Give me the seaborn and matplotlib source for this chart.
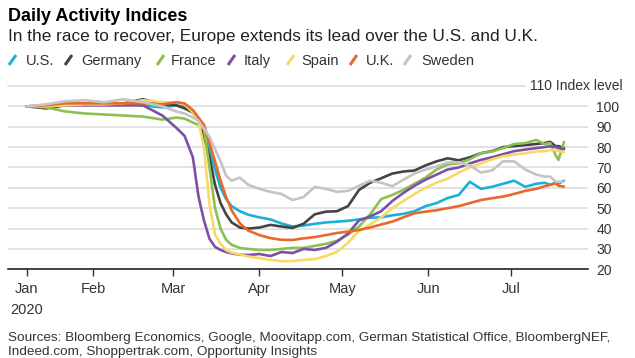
import matplotlib
matplotlib.use("Agg")
import matplotlib.pyplot as plt
import pandas as pd
import seaborn as sns
from matplotlib.lines import Line2D

# ---------------- data ----------------
dates = ["2020-01-08", "2020-01-15", "2020-01-22", "2020-01-29", "2020-02-05",
         "2020-02-12", "2020-02-19", "2020-02-26", "2020-03-02", "2020-03-05",
         "2020-03-08", "2020-03-10", "2020-03-12", "2020-03-14", "2020-03-16",
         "2020-03-18", "2020-03-20", "2020-03-22", "2020-03-25", "2020-03-28",
         "2020-04-01", "2020-04-05", "2020-04-09", "2020-04-13", "2020-04-17",
         "2020-04-21", "2020-04-25", "2020-04-29", "2020-05-03", "2020-05-07",
         "2020-05-11", "2020-05-15", "2020-05-19", "2020-05-23", "2020-05-27",
         "2020-05-31", "2020-06-04", "2020-06-08", "2020-06-12", "2020-06-16",
         "2020-06-20", "2020-06-24", "2020-06-28", "2020-07-02", "2020-07-06",
         "2020-07-10", "2020-07-13", "2020-07-15", "2020-07-17", "2020-07-18",
         "2020-07-20"]

us = [100, 100.5, 101, 101, 101, 101.5, 100.5, 99.5, 100.5, 100,
      97, 94, 86, 78.6, 69, 60, 54.5, 51, 48.5, 46.8,
      45.5, 44.5, 42.5, 41, 41.5, 42.3, 43, 43.4, 43.8, 44.5,
      45.3, 45.5, 46.5, 47.2, 48.5, 51, 52.5, 55, 56.5, 63,
      59.5, 60.5, 62, 63.5, 60.5, 62, 62.5, 61.5, 62.5, 62, 63.5]
germany = [100, 99, 100.5, 101, 101, 101.5, 103.5, 101, 100.5, 99,
           97, 93.5, 85, 75, 61.5, 52.5, 47, 43, 40.5, 40,
           40.5, 41.8, 41, 40.3, 42.4, 47, 48.3, 48.5, 51, 59,
           62.5, 64.7, 67, 68, 68.5, 71, 73, 74.5, 73.5, 75,
           77, 78, 80, 80.5, 81, 81.5, 82, 82.6, 80.4, 80.5, 79.5]
france = [100, 99.5, 97.5, 96.5, 96, 95.5, 95, 93.5, 94.5, 94,
          92, 91, 89, 70, 50, 40, 34.5, 32, 30.5, 30,
          29.5, 29.5, 30, 30.5, 30.5, 31.5, 32.5, 34, 37, 41,
          47, 54.5, 56.5, 59, 62, 65, 69, 71.5, 72, 74,
          77, 77.8, 79.5, 81.5, 82, 83.5, 81.5, 82, 76, 73.7, 82.5]
italy = [100, 100, 100.5, 100.5, 100.5, 100.5, 100.5, 95.5, 89.5, 85.5,
         75, 56, 44, 35, 31, 29.5, 28.5, 27.8, 27.2, 27,
         27.5, 26.5, 28.5, 28, 30, 29.5, 30.5, 33.5, 37.5, 44,
         46, 48.5, 53.5, 57.5, 61, 64, 66.5, 69, 70, 72,
         73.7, 75, 76.5, 78, 78.8, 79.5, 80, 80.4, 80, 79.5, 79]
spain = [100, 100, 100.5, 101, 101, 101.5, 103, 102, 102, 101,
         97, 93, 80, 52, 37, 32.5, 29.4, 28.2, 27.3, 26.3,
         25.5, 24.6, 24, 24, 24.6, 25, 26.5, 28.5, 33, 39,
         42, 45.5, 50, 53.5, 57, 60, 62.5, 64.5, 67.5, 70,
         72, 74, 75.5, 76.3, 77, 77.8, 78, 78.5, 78.6, 78, 77.5]
uk = [100, 100.5, 101.5, 101.5, 101.5, 101.5, 101.5, 101, 102, 101.5,
      98.2, 94.5, 91, 82, 73, 63.5, 55.5, 49, 42.5, 39,
      36.8, 35.3, 34.5, 34.4, 35.2, 35.8, 36.8, 37.8, 38.5, 39.3,
      40.5, 42, 43.4, 45.5, 47.5, 48.3, 49, 50, 51, 52.5,
      54, 54.9, 55.7, 57, 58.5, 59.5, 60.8, 61.4, 62.2, 61, 60.6]
sweden = [100, 101, 102.5, 103, 102, 103.5, 102, 100, 97.5, 96.5,
          94.5, 93, 89, 85, 79, 73, 66, 63.5, 65, 61.5,
          59.5, 58, 57, 54, 55.5, 60.5, 59.5, 58, 58.5, 61,
          63.5, 62.5, 60.8, 64, 67, 69, 70.5, 72.5, 72.5, 71,
          67.5, 68.5, 73, 73, 69, 66.5, 65.5, 65.5, 63, 63, 63]

countries = ["U.S.", "Germany", "France", "Italy", "Spain", "U.K.", "Sweden"]
series = [us, germany, france, italy, spain, uk, sweden]
colors = ["#1ab0d8", "#444444", "#8cc152", "#7d4fa6", "#f8d966", "#e8692b", "#c4c4c4"]

y_ticks = [20, 30, 40, 50, 60, 70, 80, 90, 100]
x_tick_dates = ["2020-01-08", "2020-02-01", "2020-03-01", "2020-04-01",
                "2020-05-01", "2020-06-01", "2020-07-01"]
x_tick_labels = ["Jan\n2020", "Feb", "Mar", "Apr", "May", "Jun", "Jul"]

title = "Daily Activity Indices"
subtitle = "In the race to recover, Europe extends its lead over the U.S. and U.K."
source_lines = ["Sources: Bloomberg Economics, Google, Moovitapp.com, German Statistical Office, BloombergNEF,",
                "Indeed.com, Shoppertrak.com, Opportunity Insights"]

# ---------------- long-form table ----------------
frames = []
for name, vals in zip(countries, series):
    frames.append(pd.DataFrame({"date": pd.to_datetime(dates), "value": vals, "country": name}))
df = pd.concat(frames, ignore_index=True)

# ---------------- figure ----------------
sns.set_theme(style="white")
plt.rcParams["font.family"] = ["Liberation Sans", "DejaVu Sans"]

W, H = 635, 358
fig = plt.figure(figsize=(W / 100, H / 100), dpi=100)
fig.patch.set_facecolor("white")

def fx(px):
    return px / W

def fy(py):
    return 1 - py / H

ax_left, ax_right, ax_top, ax_bottom = 8, 588, 86, 269.3
ax = fig.add_axes([fx(ax_left), fy(ax_bottom), (ax_right - ax_left) / W, (ax_bottom - ax_top) / H])
ax.set_facecolor("white")

# gridlines
for v in y_ticks[1:]:
    ax.axhline(v, color="#e2e2e2", lw=1.4, zorder=0)
ax.axhline(110, xmin=0, xmax=(525 - ax_left) / (ax_right - ax_left), color="#e2e2e2",
           lw=1.4, zorder=0, clip_on=False)

sns.lineplot(data=df, x="date", y="value", hue="country", hue_order=countries,
             palette=dict(zip(countries, colors)), linewidth=1.9, legend=False, ax=ax,
             zorder=3)

ax.set_xlim(pd.Timestamp("2020-01-01 06:00"), pd.Timestamp("2020-07-28 16:00"))
ax.set_ylim(20, 110)
ax.set_xlabel("")
ax.set_ylabel("")

for s in ["left", "right", "top"]:
    ax.spines[s].set_visible(False)
ax.spines["bottom"].set_color("#222222")
ax.spines["bottom"].set_linewidth(1.2)

ax.set_xticks(pd.to_datetime(x_tick_dates))
ax.set_xticklabels(x_tick_labels)
for lbl in ax.get_xticklabels():
    lbl.set_linespacing(1.6)
ax.tick_params(axis="x", bottom=True, length=5, width=1, color="#333333", pad=4.5,
               labelsize=10.5, labelcolor="#333333")

ax.yaxis.tick_right()
ax.set_yticks(y_ticks)
ax.set_yticklabels([str(v) for v in y_ticks])
ax.tick_params(axis="y", right=True, left=False, length=0, pad=6, labelsize=10,
               labelcolor="#333333")

fig.text(fx(623), fy(86), "110 Index level", ha="right", va="center", fontsize=10,
         color="#333333")

# titles
fig.text(fx(8), fy(21), title, fontsize=13, fontweight="bold", color="#000000", va="baseline")
fig.text(fx(8), fy(41.5), subtitle, fontsize=12.4, color="#222222", va="baseline")

# legend (slanted swatches)
slash_x = [9, 65, 157, 228, 287, 350, 404]
label_x = [26, 81, 171, 244, 301, 366, 421]
for name, col, sx, lx in zip(countries, colors, slash_x, label_x):
    fig.add_artist(Line2D([fx(sx), fx(sx + 7)], [fy(65), fy(55)], color=col, lw=2.2,
                          solid_capstyle="butt"))
    fig.text(fx(lx), fy(65), name, fontsize=10.5, color="#333333", va="baseline")

for line, base in zip(source_lines, [341, 355]):
    fig.text(fx(8), fy(base), line, fontsize=9.7, color="#333333", va="baseline")

fig.savefig("out.png", dpi=100, facecolor="white")
